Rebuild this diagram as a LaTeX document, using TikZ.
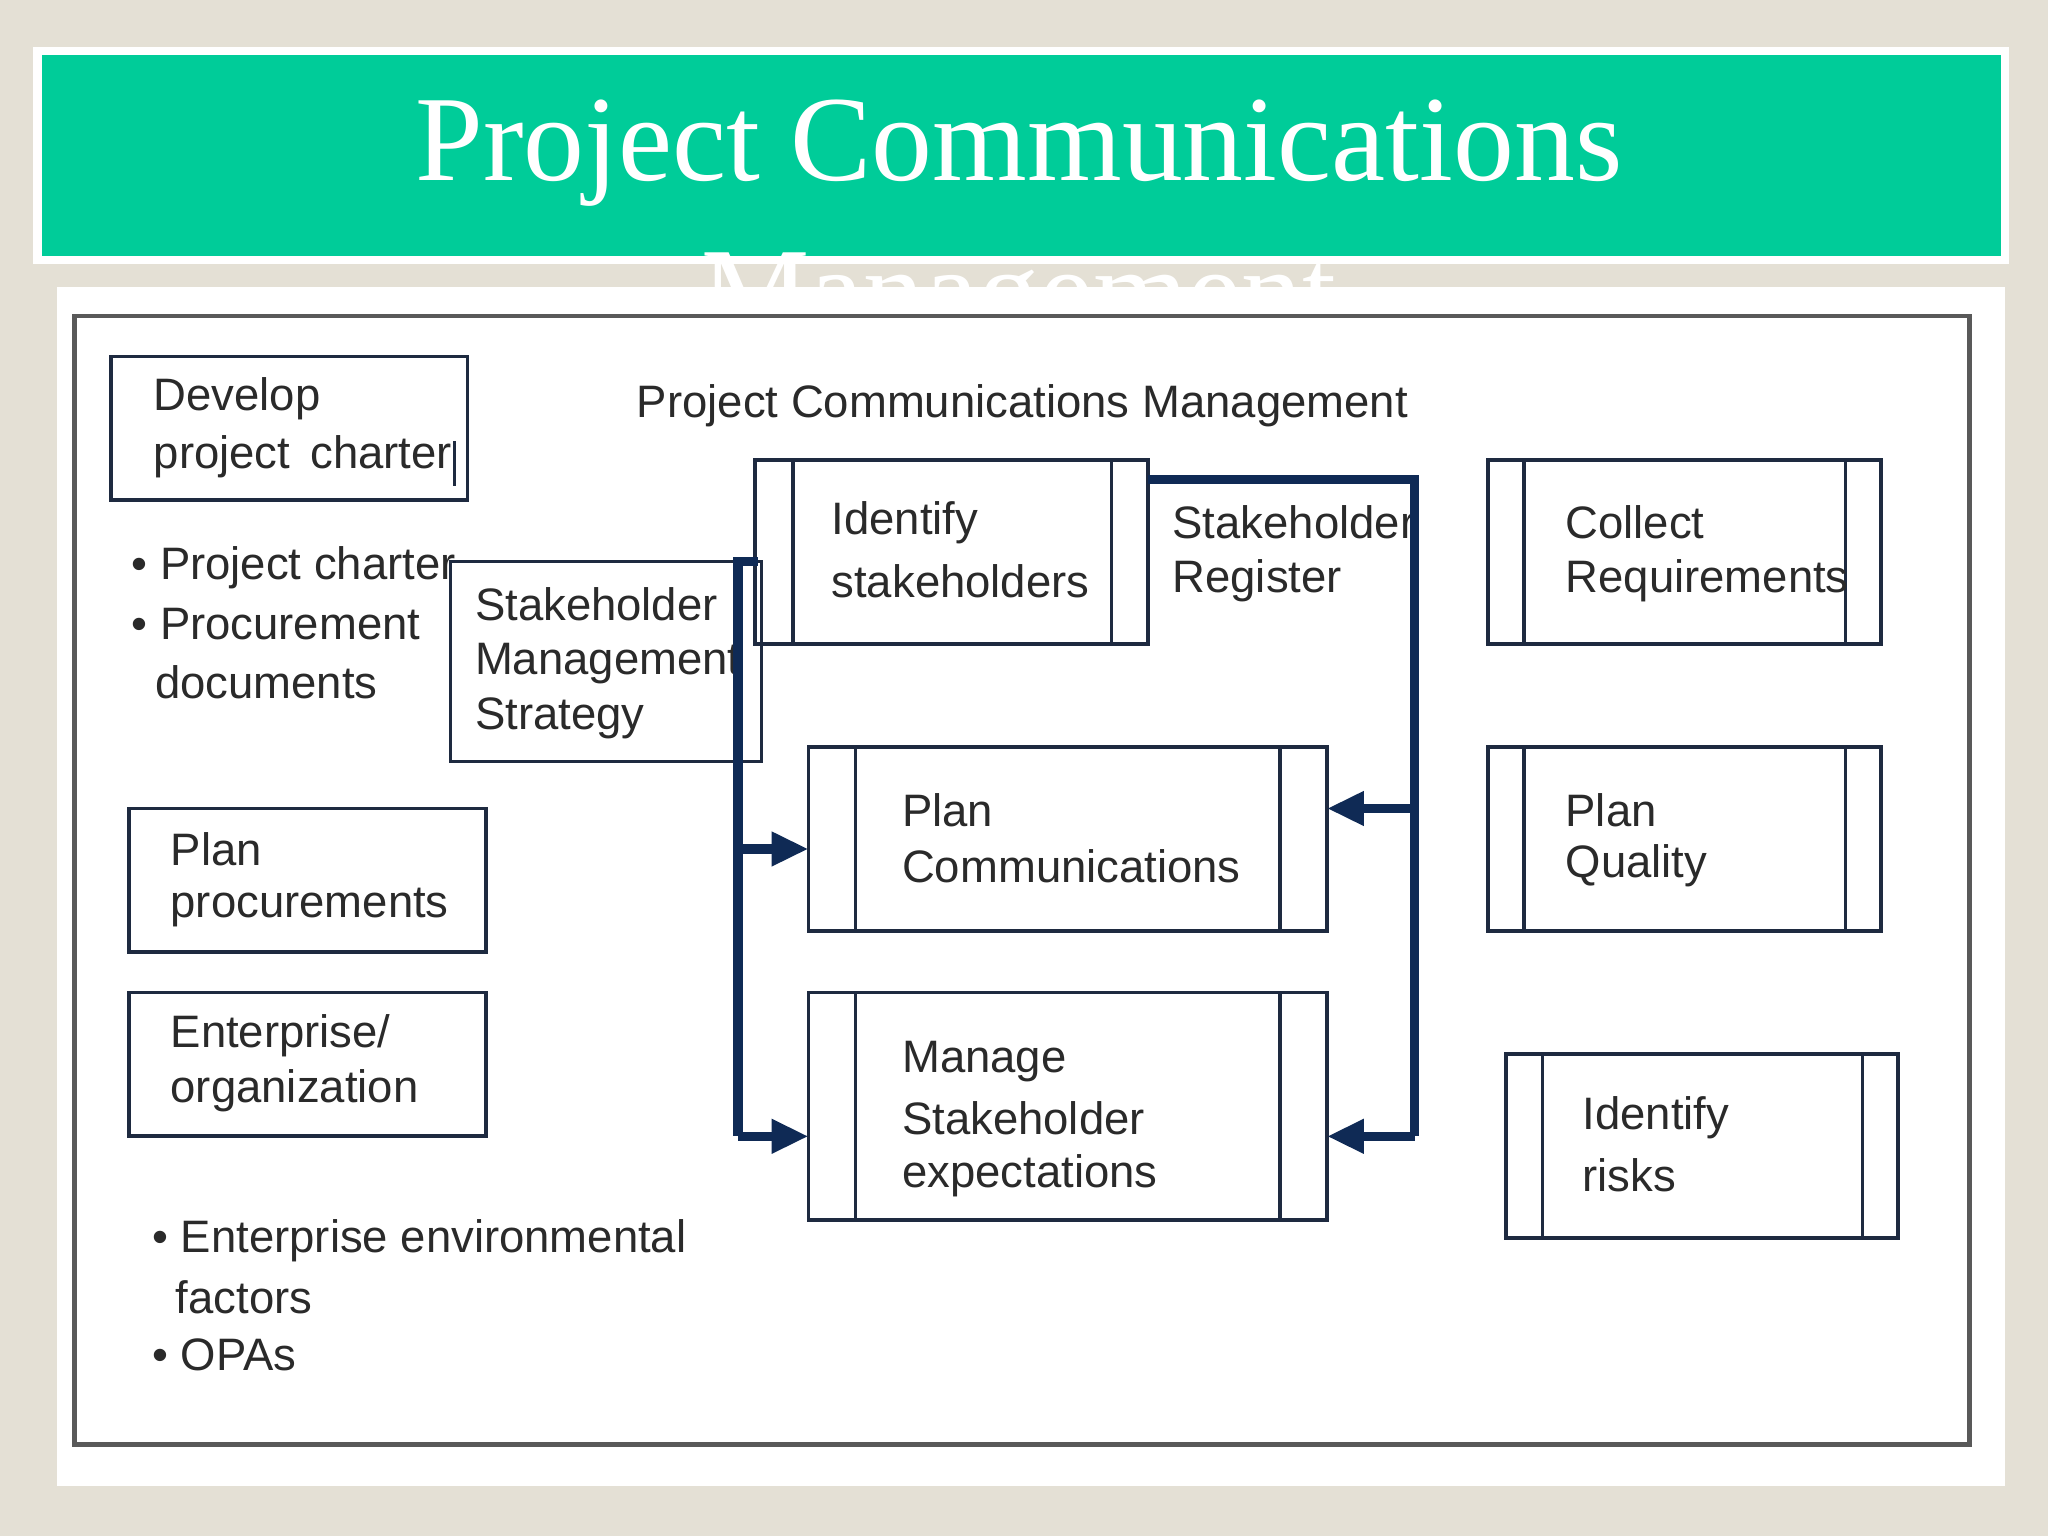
\documentclass[tikz,border=0pt]{standalone}
\usepackage{fontspec}
\setmainfont{Liberation Serif}
\newfontfamily\bodyfont{Liberation Sans}
\usetikzlibrary{arrows.meta}
\definecolor{bgc}{HTML}{E4E0D5}
\definecolor{teal}{HTML}{00CC99}
\definecolor{navy}{HTML}{0F2A55}
\definecolor{boxc}{HTML}{1E2A40}
\definecolor{txt}{HTML}{2A2A2A}
\tikzset{
  lbl/.style={anchor=west,inner sep=0pt,font=\bodyfont\fontsize{9.9}{12}\selectfont,text=txt},
  plainbox/.style={draw=boxc,line width=0.8pt},
  bar/.style={draw=boxc,line width=0.8pt},
  flow/.style={draw=navy,line width=2pt},
  arr/.style={flow,-{Triangle[length=8pt,width=7pt]}}
}
\begin{document}
\begin{tikzpicture}[x=0.01cm,y=-0.01cm]
\useasboundingbox (0,0) rectangle (1568,1176);
\fill[bgc] (0,0) rectangle (1568,1176);
\fill[white] (25,36) rectangle (1538,202);
\fill[teal] (32,42) rectangle (1532,196);
\node[text=white,font=\fontsize{26.5}{30}\selectfont] (t1) at (780,117) {Project Communications};
\node[text=white,font=\fontsize{26.5}{30}\selectfont] (t2) at (780,234) {Management};
\fill[white] (44,220) rectangle (1535,1138);
\draw[draw=gray!70!black,line width=1pt] (57,242) rectangle (1508,1106);

% plain boxes
\draw[plainbox] (85,273) rectangle (358,383);
\node[lbl] (dpc1) at (117,305) {Develop};
\node[lbl] (dpc2) at (117,350) {project\, charter};
\draw[boxc,line width=0.6pt] (348,338) -- (348,372);
\node[lbl] (b1) at (100,435) {\textbullet\ Project charter};
\node[lbl] (b2) at (100,478) {\textbullet\ Procurement};
\node[lbl] (b3) at (118,522) {documents};

\draw[plainbox] (345,430) rectangle (583,583);
\node[lbl] (sms1) at (363,463) {Stakeholder};
\node[lbl] (sms2) at (363,508) {Management};
\node[lbl] (sms3) at (363,550) {Strategy};

\draw[plainbox] (99,619) rectangle (372,729);
\node[lbl] (pp1) at (130,650) {Plan};
\node[lbl] (pp2) at (130,695) {procurements};
\draw[plainbox] (99,760) rectangle (372,870);
\node[lbl] (eo1) at (130,793) {Enterprise/};
\node[lbl] (eo2) at (130,835) {organization};

\node[lbl] (e1) at (116,950) {\textbullet\ Enterprise environmental};
\node[lbl] (e2) at (134,993) {factors};
\node[lbl] (e3) at (116,1037) {\textbullet\ OPAs};

\node[lbl] (head) at (487,311) {Project Communications Management};

% process boxes
\foreach \xa/\xb/\xc/\xd/\ya/\yb/\nm in {578/607/851/879/352/493/is, 1139/1167/1413/1440/352/493/cr, 619/655/980/1016/572/713/pc, 1139/1167/1413/1440/572/713/pq, 619/655/980/1016/760/934/ms, 1153/1181/1426/1453/807/948/ir}{
  \draw[bar] (\xa,\ya) rectangle (\xd,\yb);
  \draw[bar] (\xb,\ya) -- (\xb,\yb);
  \draw[bar] (\xc,\ya) -- (\xc,\yb);
  \coordinate (\nm) at (\xd,\ya);
}
\node[lbl] (is1) at (636,400) {Identify};
\node[lbl] (is2) at (636,445) {stakeholders};
\node[lbl] (sr1) at (897,400) {Stakeholder};
\node[lbl] (sr2) at (897,445) {Register};
\node[lbl] (cr1) at (1198,400) {Collect};
\node[lbl] (cr2) at (1198,445) {Requirements};
\node[lbl] (pc1) at (690,620) {Plan};
\node[lbl] (pc2) at (690,663) {Communications};
\node[lbl] (pq1) at (1198,620) {Plan};
\node[lbl] (pq2) at (1198,663) {Quality};
\node[lbl] (ms1) at (690,813) {Manage};
\node[lbl] (ms2) at (690,856) {Stakeholder};
\node[lbl] (ms3) at (690,900) {expectations};
\node[lbl] (ir1) at (1211,856) {Identify};
\node[lbl] (ir2) at (1211,900) {risks};

% connectors
\coordinate (r0) at (879,367);
\coordinate (r1) at (1083,367);
\coordinate (r2) at (1083,619);
\coordinate (r3) at (1083,870);
\coordinate (pcR) at (1016,619);
\coordinate (msR) at (1016,870);
\draw[flow] (r0) -- (r1) -- (r3);
\draw[arr] (r2) -- (pcR);
\draw[arr] (r3) -- (msR);
\coordinate (l0) at (580,430);
\coordinate (l1) at (565,430);
\coordinate (l2) at (565,650);
\coordinate (l3) at (565,870);
\coordinate (pcL) at (619,650);
\coordinate (msL) at (619,870);
\draw[flow] (l0) -- (l1) -- (l3);
\draw[arr] (l2) -- (pcL);
\draw[arr] (l3) -- (msL);
\end{tikzpicture}
\end{document}
